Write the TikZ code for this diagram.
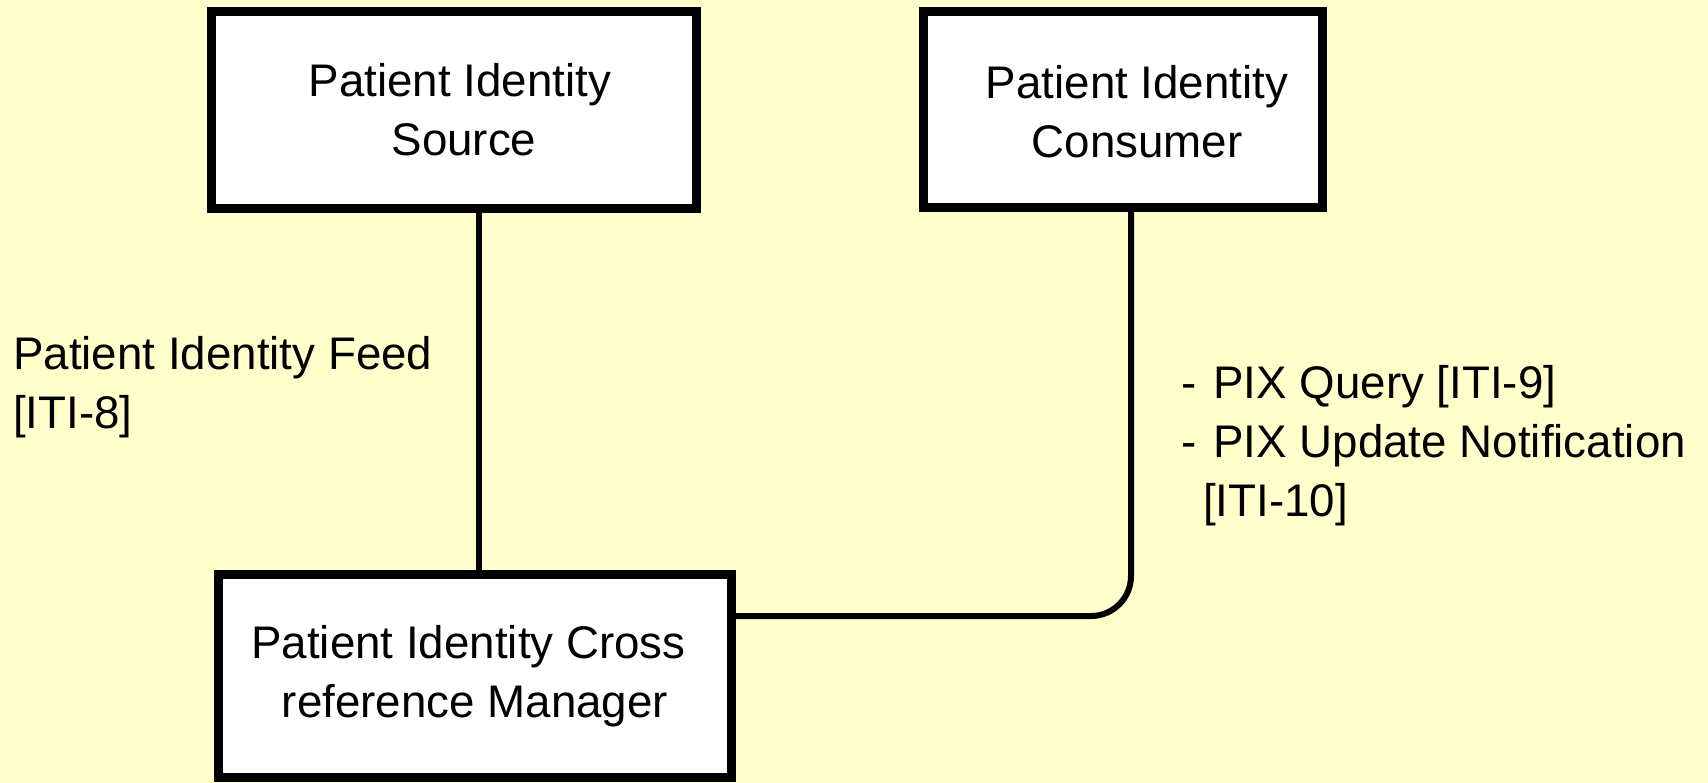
\documentclass[tikz,border=0pt]{standalone}
\usepackage{fontspec}
\setmainfont{Liberation Sans}
\definecolor{bgyellow}{HTML}{FFFFCC}
\begin{document}
\begin{tikzpicture}[x=1pt,y=-1pt,
  txt/.style={font=\fontsize{45.7}{59}\selectfont},
  box/.style={txt, draw=black, fill=white, line width=9pt, inner sep=0pt, align=center},
  conn/.style={draw=black, line width=6pt},
  lbl/.style={txt, inner sep=0pt, align=left}]
\fill[bgyellow] (0,0) rectangle (1708,783);
\useasboundingbox (0,0) rectangle (1708,783);
\node[box, minimum width=485pt, minimum height=197pt] (src) at (454,110) {};
\node[txt, inner sep=0pt, align=center] (srctext) at (460,110) {Patient Identity\\\hspace{8pt}Source};
\node[box, minimum width=399pt, minimum height=196pt] (cons) at (1123,109.5) {};
\node[txt, inner sep=0pt, align=center] (constext) at (1137,112) {Patient Identity\\Consumer};
\node[box, minimum width=513pt, minimum height=202.5pt] (pix) at (475,676) {Patient Identity Cross\rule{13pt}{0pt}\\reference Manager};
\draw[conn] ([xshift=25pt]src.south) -- ([xshift=25pt]src.south |- pix.north);
\draw[conn, rounded corners=40pt] ([xshift=8pt]cons.south) |- ([yshift=60pt]pix.east);
\node[lbl, anchor=west] (feed) at (13,387) {Patient Identity Feed\\{}[ITI-8]};
\node[lbl, anchor=west] (txlabel) at (1181,446) {-\hspace{17pt}PIX Query [ITI-9]\\-\hspace{17pt}PIX Update Notification\\\hspace{22pt}[ITI-10]};
\end{tikzpicture}
\end{document}
